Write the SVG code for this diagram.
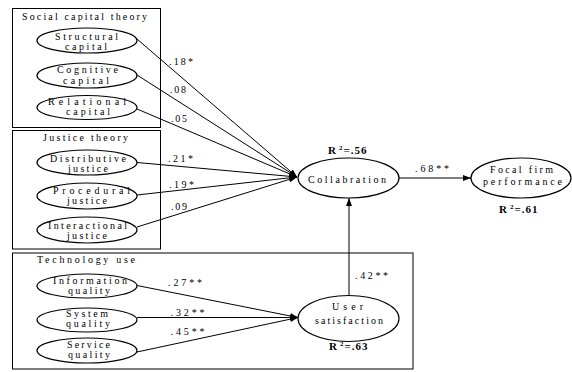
<svg xmlns="http://www.w3.org/2000/svg" width="572" height="372" viewBox="0 0 572 372">
<style>
  text { font-family: "Liberation Serif", "Times New Roman", serif; font-size: 10px; fill: #000; }
  .box { fill: none; stroke: #000; stroke-width: 1; }
  ellipse { fill: #fff; stroke: #000; stroke-width: 1.2; }
  .conn line { stroke: #000; stroke-width: 1; }
  .r2 { font-weight: bold; font-size: 11px; letter-spacing: 1px; }
</style>
<defs>
  <marker id="arr" viewBox="0 0 8 6" refX="8" refY="3" markerWidth="8" markerHeight="6" markerUnits="userSpaceOnUse" orient="auto">
    <path d="M0,0 L8,3 L0,6 Z" fill="#000"/>
  </marker>
</defs>
<rect width="572" height="372" fill="#fff"/>

<g id="box-social">
  <rect class="box" x="12.5" y="8.5" width="148" height="119"/>
  <text x="22" y="20" textLength="125" lengthAdjust="spacing">Social capital theory</text>
</g>
<g id="box-justice">
  <rect class="box" x="12.5" y="130.5" width="148" height="118.5"/>
  <text x="43" y="140.5" textLength="85" lengthAdjust="spacing">Justice theory</text>
</g>
<g id="box-tech">
  <rect class="box" x="12.5" y="253" width="400.5" height="116"/>
  <text x="37" y="263" textLength="98" lengthAdjust="spacing">Technology use</text>
</g>

<g id="conn">
  <g class="conn">
    <line x1="137" y1="39" x2="297" y2="177" marker-end="url(#arr)"/>
    <line x1="137" y1="75" x2="297" y2="177" marker-end="url(#arr)"/>
    <line x1="137" y1="109" x2="297" y2="177" marker-end="url(#arr)"/>
    <line x1="137" y1="162.5" x2="297" y2="177" marker-end="url(#arr)"/>
    <line x1="137" y1="195" x2="297" y2="177" marker-end="url(#arr)"/>
    <line x1="137" y1="227" x2="297" y2="177" marker-end="url(#arr)"/>
    <line x1="137" y1="285.5" x2="298" y2="317.5" marker-end="url(#arr)"/>
    <line x1="137" y1="317.5" x2="298" y2="317.5" marker-end="url(#arr)"/>
    <line x1="137" y1="352" x2="298" y2="317.5" marker-end="url(#arr)"/>
    <line x1="349" y1="295.5" x2="349" y2="198" marker-end="url(#arr)"/>
    <line x1="399" y1="178" x2="471" y2="178" marker-end="url(#arr)"/>
  </g>
  <text x="169" y="65" textLength="24" lengthAdjust="spacing">.18*</text>
  <text x="170" y="93" textLength="16" lengthAdjust="spacing">.08</text>
  <text x="171" y="122" textLength="16" lengthAdjust="spacing">.05</text>
  <text x="168" y="162" textLength="25" lengthAdjust="spacing">.21*</text>
  <text x="169" y="188" textLength="25" lengthAdjust="spacing">.19*</text>
  <text x="171" y="210" textLength="16" lengthAdjust="spacing">.09</text>
  <text x="168" y="286" textLength="34" lengthAdjust="spacing">.27**</text>
  <text x="170.5" y="316" textLength="34" lengthAdjust="spacing">.32**</text>
  <text x="170.5" y="334.5" textLength="34" lengthAdjust="spacing">.45**</text>
  <text x="355" y="279" textLength="33" lengthAdjust="spacing">.42**</text>
  <text x="415" y="171.5" textLength="34" lengthAdjust="spacing">.68**</text>
</g>

<g id="n-structural">
  <ellipse cx="87" cy="40.5" rx="50" ry="12.5"/>
  <text x="55" y="40" textLength="63" lengthAdjust="spacing">Structural</text>
  <text x="65" y="50" textLength="42" lengthAdjust="spacing">capital</text>
</g>
<g id="n-cognitive">
  <ellipse cx="87" cy="75.5" rx="50" ry="12.5"/>
  <text x="57" y="73" textLength="61" lengthAdjust="spacing">Cognitive</text>
  <text x="63" y="83.5" textLength="46" lengthAdjust="spacing">capital</text>
</g>
<g id="n-relational">
  <ellipse cx="87" cy="107.5" rx="50" ry="12"/>
  <text x="48" y="104.5" textLength="78" lengthAdjust="spacing">Relational</text>
  <text x="66" y="115" textLength="44" lengthAdjust="spacing">capital</text>
</g>
<g id="n-distributive">
  <ellipse cx="87" cy="162.5" rx="50" ry="12.5"/>
  <text x="50" y="161.5" textLength="76" lengthAdjust="spacing">Distributive</text>
  <text x="68" y="171.5" textLength="40" lengthAdjust="spacing">justice</text>
</g>
<g id="n-procedural">
  <ellipse cx="87" cy="196" rx="50" ry="13"/>
  <text x="53" y="194" textLength="77" lengthAdjust="spacing">Procedural</text>
  <text x="67" y="204" textLength="40" lengthAdjust="spacing">justice</text>
</g>
<g id="n-interactional">
  <ellipse cx="87" cy="230" rx="50" ry="13"/>
  <text x="48" y="228.5" textLength="79" lengthAdjust="spacing">Interactional</text>
  <text x="67" y="238.5" textLength="40" lengthAdjust="spacing">justice</text>
</g>
<g id="n-information">
  <ellipse cx="87" cy="286" rx="50" ry="12"/>
  <text x="53" y="284" textLength="74" lengthAdjust="spacing">Information</text>
  <text x="68" y="294" textLength="42" lengthAdjust="spacing">quality</text>
</g>
<g id="n-system">
  <ellipse cx="87" cy="320" rx="50" ry="12"/>
  <text x="66" y="316.5" textLength="42" lengthAdjust="spacing">System</text>
  <text x="66" y="326.5" textLength="44" lengthAdjust="spacing">quality</text>
</g>
<g id="n-service">
  <ellipse cx="87" cy="350.5" rx="50" ry="12.5"/>
  <text x="67" y="348" textLength="43" lengthAdjust="spacing">Service</text>
  <text x="68" y="358" textLength="42" lengthAdjust="spacing">quality</text>
</g>
<g id="n-collaboration">
  <ellipse cx="348.5" cy="178" rx="50.5" ry="20"/>
  <text x="308" y="183" textLength="78" lengthAdjust="spacing">Collabration</text>
  <text class="r2" x="328" y="154">R<tspan dx="2" dy="-4" font-size="7">2</tspan><tspan dy="4">=.56</tspan></text>
</g>
<g id="n-focal">
  <ellipse cx="521" cy="178" rx="50" ry="20"/>
  <text x="490" y="173" textLength="63" lengthAdjust="spacing">Focal firm</text>
  <text x="483" y="184.5" textLength="79" lengthAdjust="spacing">performance</text>
  <text class="r2" x="499" y="212.5">R<tspan dx="2" dy="-4" font-size="7">2</tspan><tspan dy="4">=.61</tspan></text>
</g>
<g id="n-user">
  <ellipse cx="348.5" cy="318.5" rx="50.5" ry="23"/>
  <text x="332" y="310" textLength="31" lengthAdjust="spacing">User</text>
  <text x="315" y="324" textLength="68" lengthAdjust="spacing">satisfaction</text>
  <text class="r2" x="329" y="350">R<tspan dx="2" dy="-4" font-size="7">2</tspan><tspan dy="4">=.63</tspan></text>
</g>
</svg>
